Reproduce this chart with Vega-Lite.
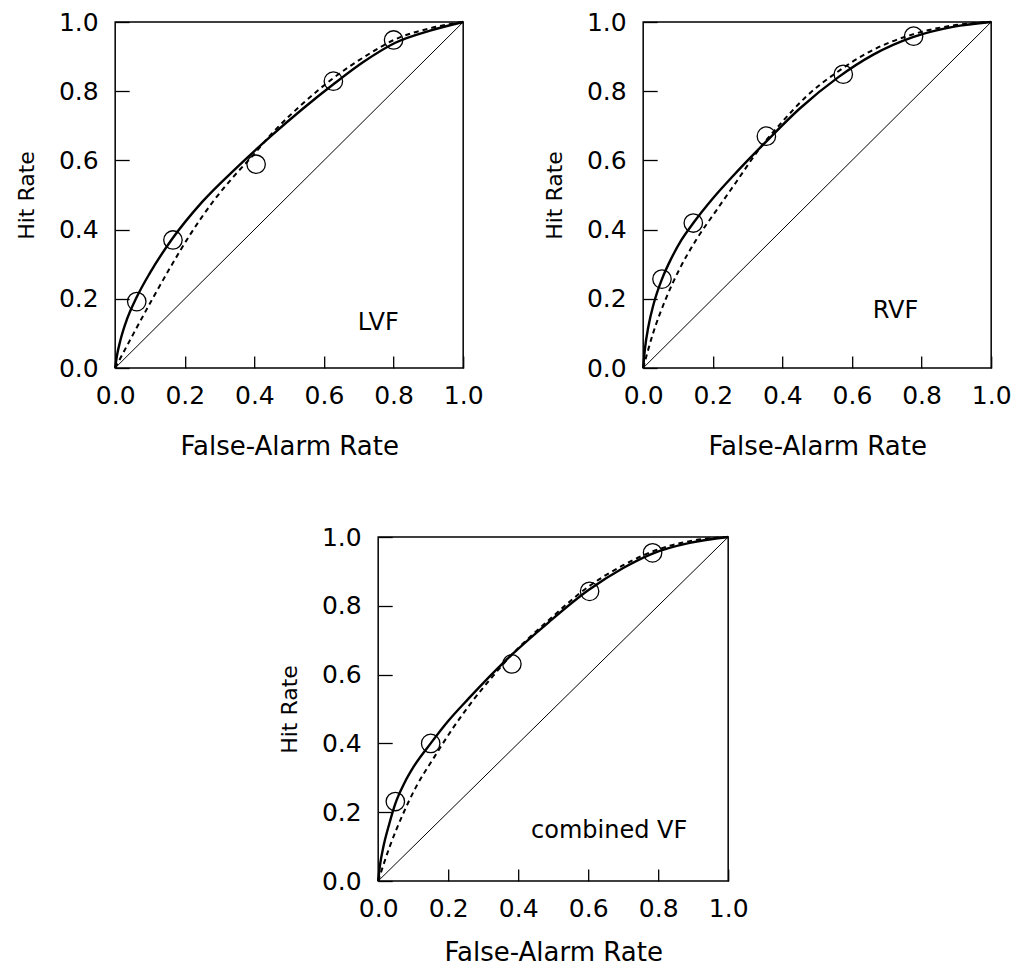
{
  "$schema": "https://vega.github.io/schema/vega-lite/v6.json",
  "padding": {"left": 14, "top": 9, "right": 0, "bottom": 0},
  "background": "white",
  "datasets": {
    "diag": [{"F": 0, "H": 0}, {"F": 1, "H": 1}],
    "points": [
      {"panel": "LVF", "F": 0.062, "H": 0.192}, {"panel": "LVF", "F": 0.166, "H": 0.370}, {"panel": "LVF", "F": 0.405, "H": 0.589}, {"panel": "LVF", "F": 0.627, "H": 0.829}, {"panel": "LVF", "F": 0.800, "H": 0.948},
      {"panel": "RVF", "F": 0.054, "H": 0.257}, {"panel": "RVF", "F": 0.144, "H": 0.419}, {"panel": "RVF", "F": 0.354, "H": 0.670}, {"panel": "RVF", "F": 0.575, "H": 0.849}, {"panel": "RVF", "F": 0.777, "H": 0.959},
      {"panel": "CVF", "F": 0.049, "H": 0.231}, {"panel": "CVF", "F": 0.150, "H": 0.400}, {"panel": "CVF", "F": 0.382, "H": 0.631}, {"panel": "CVF", "F": 0.604, "H": 0.842}, {"panel": "CVF", "F": 0.784, "H": 0.954}
    ],
    "labels": [
      {"panel": "LVF", "F": 0.756, "H": 0.13, "label": "LVF"},
      {"panel": "RVF", "F": 0.725, "H": 0.164, "label": "RVF"},
      {"panel": "CVF", "F": 0.66, "H": 0.145, "label": "combined VF"}
    ],
    "curves": [
      {"panel": "LVF", "model": "solid", "F": 0, "H": 0}, {"panel": "LVF", "model": "solid", "F": 0.005, "H": 0.035}, {"panel": "LVF", "model": "solid", "F": 0.015, "H": 0.08}, {"panel": "LVF", "model": "solid", "F": 0.03, "H": 0.13}, {"panel": "LVF", "model": "solid", "F": 0.062, "H": 0.205}, {"panel": "LVF", "model": "solid", "F": 0.1, "H": 0.275}, {"panel": "LVF", "model": "solid", "F": 0.163, "H": 0.372}, {"panel": "LVF", "model": "solid", "F": 0.25, "H": 0.48}, {"panel": "LVF", "model": "solid", "F": 0.35, "H": 0.58}, {"panel": "LVF", "model": "solid", "F": 0.445, "H": 0.668}, {"panel": "LVF", "model": "solid", "F": 0.54, "H": 0.75}, {"panel": "LVF", "model": "solid", "F": 0.627, "H": 0.82}, {"panel": "LVF", "model": "solid", "F": 0.714, "H": 0.885}, {"panel": "LVF", "model": "solid", "F": 0.805, "H": 0.94}, {"panel": "LVF", "model": "solid", "F": 0.905, "H": 0.975}, {"panel": "LVF", "model": "solid", "F": 1, "H": 1},
      {"panel": "LVF", "model": "dashed", "F": 0, "H": 0}, {"panel": "LVF", "model": "dashed", "F": 0.053, "H": 0.1}, {"panel": "LVF", "model": "dashed", "F": 0.105, "H": 0.196}, {"panel": "LVF", "model": "dashed", "F": 0.158, "H": 0.29}, {"panel": "LVF", "model": "dashed", "F": 0.215, "H": 0.385}, {"panel": "LVF", "model": "dashed", "F": 0.282, "H": 0.482}, {"panel": "LVF", "model": "dashed", "F": 0.34, "H": 0.553}, {"panel": "LVF", "model": "dashed", "F": 0.39, "H": 0.608}, {"panel": "LVF", "model": "dashed", "F": 0.445, "H": 0.672}, {"panel": "LVF", "model": "dashed", "F": 0.54, "H": 0.765}, {"panel": "LVF", "model": "dashed", "F": 0.627, "H": 0.838}, {"panel": "LVF", "model": "dashed", "F": 0.714, "H": 0.898}, {"panel": "LVF", "model": "dashed", "F": 0.805, "H": 0.95}, {"panel": "LVF", "model": "dashed", "F": 0.905, "H": 0.982}, {"panel": "LVF", "model": "dashed", "F": 1, "H": 1},
      {"panel": "RVF", "model": "solid", "F": 0, "H": 0}, {"panel": "RVF", "model": "solid", "F": 0.005, "H": 0.055}, {"panel": "RVF", "model": "solid", "F": 0.015, "H": 0.12}, {"panel": "RVF", "model": "solid", "F": 0.03, "H": 0.185}, {"panel": "RVF", "model": "solid", "F": 0.054, "H": 0.257}, {"panel": "RVF", "model": "solid", "F": 0.08, "H": 0.315}, {"panel": "RVF", "model": "solid", "F": 0.11, "H": 0.37}, {"panel": "RVF", "model": "solid", "F": 0.144, "H": 0.419}, {"panel": "RVF", "model": "solid", "F": 0.2, "H": 0.49}, {"panel": "RVF", "model": "solid", "F": 0.258, "H": 0.555}, {"panel": "RVF", "model": "solid", "F": 0.354, "H": 0.655}, {"panel": "RVF", "model": "solid", "F": 0.45, "H": 0.75}, {"panel": "RVF", "model": "solid", "F": 0.56, "H": 0.84}, {"panel": "RVF", "model": "solid", "F": 0.66, "H": 0.905}, {"panel": "RVF", "model": "solid", "F": 0.777, "H": 0.957}, {"panel": "RVF", "model": "solid", "F": 0.89, "H": 0.986}, {"panel": "RVF", "model": "solid", "F": 1, "H": 1},
      {"panel": "RVF", "model": "dashed", "F": 0, "H": 0}, {"panel": "RVF", "model": "dashed", "F": 0.027, "H": 0.096}, {"panel": "RVF", "model": "dashed", "F": 0.065, "H": 0.2}, {"panel": "RVF", "model": "dashed", "F": 0.104, "H": 0.285}, {"panel": "RVF", "model": "dashed", "F": 0.152, "H": 0.37}, {"panel": "RVF", "model": "dashed", "F": 0.21, "H": 0.455}, {"panel": "RVF", "model": "dashed", "F": 0.267, "H": 0.537}, {"panel": "RVF", "model": "dashed", "F": 0.335, "H": 0.635}, {"panel": "RVF", "model": "dashed", "F": 0.4, "H": 0.712}, {"panel": "RVF", "model": "dashed", "F": 0.469, "H": 0.785}, {"panel": "RVF", "model": "dashed", "F": 0.56, "H": 0.857}, {"panel": "RVF", "model": "dashed", "F": 0.643, "H": 0.91}, {"panel": "RVF", "model": "dashed", "F": 0.777, "H": 0.965}, {"panel": "RVF", "model": "dashed", "F": 0.89, "H": 0.99}, {"panel": "RVF", "model": "dashed", "F": 1, "H": 1},
      {"panel": "CVF", "model": "solid", "F": 0, "H": 0}, {"panel": "CVF", "model": "solid", "F": 0.005, "H": 0.045}, {"panel": "CVF", "model": "solid", "F": 0.015, "H": 0.1}, {"panel": "CVF", "model": "solid", "F": 0.03, "H": 0.16}, {"panel": "CVF", "model": "solid", "F": 0.049, "H": 0.225}, {"panel": "CVF", "model": "solid", "F": 0.075, "H": 0.285}, {"panel": "CVF", "model": "solid", "F": 0.1, "H": 0.33}, {"panel": "CVF", "model": "solid", "F": 0.15, "H": 0.4}, {"panel": "CVF", "model": "solid", "F": 0.2, "H": 0.465}, {"panel": "CVF", "model": "solid", "F": 0.258, "H": 0.53}, {"panel": "CVF", "model": "solid", "F": 0.363, "H": 0.64}, {"panel": "CVF", "model": "solid", "F": 0.487, "H": 0.752}, {"panel": "CVF", "model": "solid", "F": 0.6, "H": 0.845}, {"panel": "CVF", "model": "solid", "F": 0.7, "H": 0.91}, {"panel": "CVF", "model": "solid", "F": 0.784, "H": 0.952}, {"panel": "CVF", "model": "solid", "F": 0.89, "H": 0.983}, {"panel": "CVF", "model": "solid", "F": 1, "H": 1},
      {"panel": "CVF", "model": "dashed", "F": 0, "H": 0}, {"panel": "CVF", "model": "dashed", "F": 0.033, "H": 0.1}, {"panel": "CVF", "model": "dashed", "F": 0.071, "H": 0.195}, {"panel": "CVF", "model": "dashed", "F": 0.109, "H": 0.275}, {"panel": "CVF", "model": "dashed", "F": 0.157, "H": 0.355}, {"panel": "CVF", "model": "dashed", "F": 0.214, "H": 0.445}, {"panel": "CVF", "model": "dashed", "F": 0.271, "H": 0.525}, {"panel": "CVF", "model": "dashed", "F": 0.329, "H": 0.597}, {"panel": "CVF", "model": "dashed", "F": 0.37, "H": 0.645}, {"panel": "CVF", "model": "dashed", "F": 0.487, "H": 0.758}, {"panel": "CVF", "model": "dashed", "F": 0.6, "H": 0.855}, {"panel": "CVF", "model": "dashed", "F": 0.7, "H": 0.918}, {"panel": "CVF", "model": "dashed", "F": 0.784, "H": 0.958}, {"panel": "CVF", "model": "dashed", "F": 0.89, "H": 0.988}, {"panel": "CVF", "model": "dashed", "F": 1, "H": 1}
    ]
  },
  "vconcat": [
    {
      "hconcat": [
        {
          "width": 348, "height": 346,
          "encoding": {
            "x": {"field": "F", "type": "quantitative", "scale": {"domain": [0, 1], "nice": false}, "axis": {"title": "False-Alarm Rate", "values": [0, 0.2, 0.4, 0.6, 0.8, 1], "format": ".1f", "tickSize": -12, "labelPadding": 27, "titlePadding": 25, "titleFontSize": 26, "labelFlush": false}},
            "y": {"field": "H", "type": "quantitative", "scale": {"domain": [0, 1], "nice": false}, "axis": {"title": "Hit Rate", "values": [0, 0.2, 0.4, 0.6, 0.8, 1], "format": ".1f", "tickSize": -14, "labelPadding": 31, "titlePadding": 20, "titleFontSize": 22, "labelFlush": false}}
          },
          "layer": [
            {"data": {"name": "diag"}, "mark": {"type": "line", "color": "black", "strokeWidth": 1}},
            {"data": {"name": "curves"}, "transform": [{"filter": "datum.panel === 'LVF' && datum.model === 'solid'"}], "mark": {"type": "line", "interpolate": "monotone", "color": "black", "strokeWidth": 2.4}},
            {"data": {"name": "curves"}, "transform": [{"filter": "datum.panel === 'LVF' && datum.model === 'dashed'"}], "mark": {"type": "line", "interpolate": "monotone", "color": "black", "strokeWidth": 2, "strokeDash": [5, 4]}},
            {"data": {"name": "points"}, "transform": [{"filter": "datum.panel === 'LVF'"}], "mark": {"type": "point", "shape": "circle", "filled": false, "size": 340, "color": "black", "strokeWidth": 1.3, "opacity": 1}},
            {"data": {"name": "labels"}, "transform": [{"filter": "datum.panel === 'LVF'"}], "mark": {"type": "text", "font": "DejaVu Sans", "fontSize": 24, "color": "black", "align": "center", "baseline": "middle"}, "encoding": {"text": {"field": "label"}}}
          ]
        },
        {
          "width": 348, "height": 346,
          "encoding": {
            "x": {"field": "F", "type": "quantitative", "scale": {"domain": [0, 1], "nice": false}, "axis": {"title": "False-Alarm Rate", "values": [0, 0.2, 0.4, 0.6, 0.8, 1], "format": ".1f", "tickSize": -12, "labelPadding": 27, "titlePadding": 25, "titleFontSize": 26, "labelFlush": false}},
            "y": {"field": "H", "type": "quantitative", "scale": {"domain": [0, 1], "nice": false}, "axis": {"title": "Hit Rate", "values": [0, 0.2, 0.4, 0.6, 0.8, 1], "format": ".1f", "tickSize": -14, "labelPadding": 31, "titlePadding": 20, "titleFontSize": 22, "labelFlush": false}}
          },
          "layer": [
            {"data": {"name": "diag"}, "mark": {"type": "line", "color": "black", "strokeWidth": 1}},
            {"data": {"name": "curves"}, "transform": [{"filter": "datum.panel === 'RVF' && datum.model === 'solid'"}], "mark": {"type": "line", "interpolate": "monotone", "color": "black", "strokeWidth": 2.4}},
            {"data": {"name": "curves"}, "transform": [{"filter": "datum.panel === 'RVF' && datum.model === 'dashed'"}], "mark": {"type": "line", "interpolate": "monotone", "color": "black", "strokeWidth": 2, "strokeDash": [5, 4]}},
            {"data": {"name": "points"}, "transform": [{"filter": "datum.panel === 'RVF'"}], "mark": {"type": "point", "shape": "circle", "filled": false, "size": 340, "color": "black", "strokeWidth": 1.3, "opacity": 1}},
            {"data": {"name": "labels"}, "transform": [{"filter": "datum.panel === 'RVF'"}], "mark": {"type": "text", "font": "DejaVu Sans", "fontSize": 24, "color": "black", "align": "center", "baseline": "middle"}, "encoding": {"text": {"field": "label"}}}
          ]
        }
      ]
    },
    {
      "width": 350, "height": 344,
      "encoding": {
        "x": {"field": "F", "type": "quantitative", "scale": {"domain": [0, 1], "nice": false}, "axis": {"title": "False-Alarm Rate", "values": [0, 0.2, 0.4, 0.6, 0.8, 1], "format": ".1f", "tickSize": -12, "labelPadding": 27, "titlePadding": 18, "titleFontSize": 26, "labelFlush": false}},
        "y": {"field": "H", "type": "quantitative", "scale": {"domain": [0, 1], "nice": false}, "axis": {"title": "Hit Rate", "values": [0, 0.2, 0.4, 0.6, 0.8, 1], "format": ".1f", "tickSize": -14, "labelPadding": 31, "titlePadding": 20, "titleFontSize": 22, "labelFlush": false}}
      },
      "layer": [
        {"data": {"name": "diag"}, "mark": {"type": "line", "color": "black", "strokeWidth": 1}},
        {"data": {"name": "curves"}, "transform": [{"filter": "datum.panel === 'CVF' && datum.model === 'solid'"}], "mark": {"type": "line", "interpolate": "monotone", "color": "black", "strokeWidth": 2.4}},
        {"data": {"name": "curves"}, "transform": [{"filter": "datum.panel === 'CVF' && datum.model === 'dashed'"}], "mark": {"type": "line", "interpolate": "monotone", "color": "black", "strokeWidth": 2, "strokeDash": [5, 4]}},
        {"data": {"name": "points"}, "transform": [{"filter": "datum.panel === 'CVF'"}], "mark": {"type": "point", "shape": "circle", "filled": false, "size": 340, "color": "black", "strokeWidth": 1.3, "opacity": 1}},
        {"data": {"name": "labels"}, "transform": [{"filter": "datum.panel === 'CVF'"}], "mark": {"type": "text", "font": "DejaVu Sans", "fontSize": 24, "color": "black", "align": "center", "baseline": "middle"}, "encoding": {"text": {"field": "label"}}}
      ]
    }
  ],
  "spacing": 64,
  "center": true,
  "config": {
    "concat": {"spacing": 58},
    "view": {"stroke": "black", "strokeWidth": 1.5},
    "axis": {
      "domain": false, "grid": false,
      "tickColor": "black", "tickWidth": 1.3,
      "labelFont": "DejaVu Sans", "labelFontSize": 25, "labelColor": "black", "labelOverlap": false,
      "titleFont": "DejaVu Sans", "titleFontWeight": "normal", "titleColor": "black"
    }
  }
}
